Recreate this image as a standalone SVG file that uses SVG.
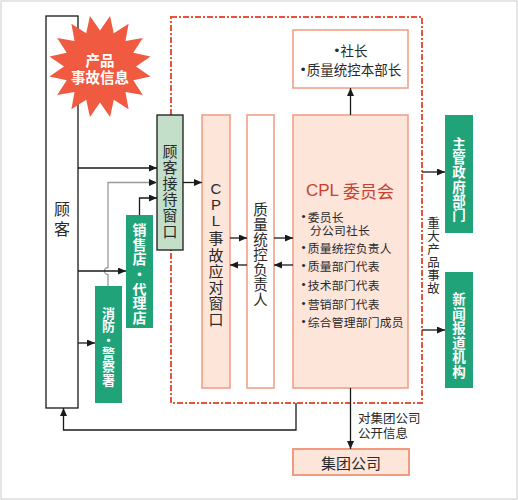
<svg xmlns="http://www.w3.org/2000/svg" width="518" height="500" viewBox="0 0 518 500">
<defs>
<marker id="ah" markerWidth="9" markerHeight="8" refX="8" refY="3.5" orient="auto" markerUnits="userSpaceOnUse"><path d="M0,0 L8,3.5 L0,7 z" fill="#1a1a1a"/></marker>
<style>
text{font-family:"Noto Sans CJK SC","Liberation Sans",sans-serif;dominant-baseline:central;fill:#2a2a2a}
.lat{font-family:"Liberation Sans","Noto Sans CJK SC",sans-serif}
.w{fill:#fff;font-weight:bold}
.pk{fill:#fde5da;stroke:#f29a80;stroke-width:1.5}
.gr{fill:#20a378}
.ln{fill:none;stroke:#1a1a1a;stroke-width:1.3}
.ar{marker-end:url(#ah)}
.v{text-anchor:middle}
</style>
</defs>
<rect x="1" y="1" width="516" height="498" fill="#fff" stroke="#cccccc" stroke-width="1"/>

<g id="dashed-frame"><rect x="171" y="17" width="251" height="386" fill="none" stroke="#e8553d" stroke-width="2" stroke-dasharray="6 2 2 2"/></g>

<g id="customer">
<rect x="46" y="16" width="32" height="392" fill="#fff" stroke="#1a1a1a" stroke-width="1.3"/>
<text x="62" y="208" font-size="16" class="v">顾</text>
<text x="62" y="228" font-size="16" class="v">客</text>
</g>

<g id="starburst">
<polygon fill="#f05a40" points="100,30.5 110.05,16 113.78,33.24 128.61,23.68 125.46,41.04 142.82,37.89 133.26,52.72 150.51,56.45 136,66.5 150.51,76.55 133.26,80.28 142.82,95.11 125.46,91.96 128.61,109.32 113.78,99.76 110.05,117 100,102.5 89.95,117 86.22,99.76 71.39,109.32 74.54,91.96 57.18,95.11 66.74,80.28 49.49,76.55 64,66.5 49.49,56.45 66.74,52.72 57.18,37.89 74.54,41.04 71.39,23.68 86.22,33.24 89.95,16"/>
<text x="100" y="59.5" font-size="14.5" class="w v">产品</text>
<text x="100" y="76" font-size="14.5" class="w v">事故信息</text>
</g>

<g id="reception">
<rect x="157" y="115" width="26" height="135" fill="#c3dfca" stroke="#1a1a1a" stroke-width="1.3"/>
<text font-size="15" class="v"><tspan x="170" y="150">顾</tspan><tspan x="170" y="166">客</tspan><tspan x="170" y="182">接</tspan><tspan x="170" y="198">待</tspan><tspan x="170" y="214">窗</tspan><tspan x="170" y="230">口</tspan></text>
</g>

<g id="dealer">
<rect x="126" y="215" width="27" height="113" class="gr"/>
<text font-size="14" class="w v"><tspan x="139.5" y="229">销</tspan><tspan x="139.5" y="243.7">售</tspan><tspan x="139.5" y="258.3">店</tspan><tspan x="139.5" y="273">•</tspan><tspan x="139.5" y="287.7">代</tspan><tspan x="139.5" y="302.3">理</tspan><tspan x="139.5" y="317">店</tspan></text>
</g>

<g id="police">
<rect x="95" y="286" width="27" height="117" class="gr"/>
<text font-size="13" class="w v"><tspan x="108.5" y="312">消</tspan><tspan x="108.5" y="325.3">防</tspan><tspan x="108.5" y="338.6">•</tspan><tspan x="108.5" y="351.9">警</tspan><tspan x="108.5" y="365.2">察</tspan><tspan x="108.5" y="378.5">署</tspan></text>
</g>

<g id="cpl-window">
<rect x="202" y="115" width="28" height="273" class="pk"/>
<text font-size="15" class="v"><tspan x="216" y="188" class="lat">C</tspan><tspan x="216" y="204" class="lat">P</tspan><tspan x="216" y="220" class="lat">L</tspan><tspan x="216" y="237">事</tspan><tspan x="216" y="253.5">故</tspan><tspan x="216" y="270">应</tspan><tspan x="216" y="286">对</tspan><tspan x="216" y="302">窗</tspan><tspan x="216" y="318">口</tspan></text>
</g>

<g id="quality-manager">
<rect x="247" y="115" width="27" height="273" fill="#fff" stroke="#f29a80" stroke-width="1.5"/>
<text font-size="14.5" class="v"><tspan x="260.5" y="208">质</tspan><tspan x="260.5" y="223">量</tspan><tspan x="260.5" y="238">统</tspan><tspan x="260.5" y="253">控</tspan><tspan x="260.5" y="268">负</tspan><tspan x="260.5" y="283">责</tspan><tspan x="260.5" y="298">人</tspan></text>
</g>

<g id="committee">
<rect x="293" y="115" width="115" height="273" class="pk"/>
<text x="350" y="190" font-size="17" class="v" style="fill:#c8412e"><tspan class="lat">CPL </tspan>委员会</text>
<g font-size="11.8" letter-spacing="0.2">
<text x="301.5" y="216"><tspan class="lat">•</tspan><tspan dx="2">委员长</tspan></text>
<text x="310" y="229">分公司社长</text>
<text x="301.5" y="246.5"><tspan class="lat">•</tspan><tspan dx="2">质量统控负责人</tspan></text>
<text x="301.5" y="265"><tspan class="lat">•</tspan><tspan dx="2">质量部门代表</tspan></text>
<text x="301.5" y="283.5"><tspan class="lat">•</tspan><tspan dx="2">技术部门代表</tspan></text>
<text x="301.5" y="302.5"><tspan class="lat">•</tspan><tspan dx="2">营销部门代表</tspan></text>
<text x="301.5" y="321"><tspan class="lat">•</tspan><tspan dx="2">综合管理部门成员</tspan></text>
</g>
</g>

<g id="president">
<rect x="293" y="30" width="115" height="58" fill="#fff" stroke="#f29a80" stroke-width="1.5"/>
<text x="351" y="50" font-size="13.5" class="v"><tspan class="lat">•</tspan><tspan dx="1.5">社长</tspan></text>
<text x="351" y="69" font-size="13.5" class="v"><tspan class="lat">•</tspan><tspan dx="1.5">质量统控本部长</tspan></text>
</g>

<g id="group-company">
<rect x="293" y="449" width="116" height="26" fill="#fde5da" stroke="#f29a80" stroke-width="2"/>
<text x="351" y="462" font-size="15" class="v">集团公司</text>
</g>

<g id="government">
<rect x="445" y="115" width="28" height="118" class="gr"/>
<text font-size="13.5" class="w v"><tspan x="459" y="143">主</tspan><tspan x="459" y="157.2">管</tspan><tspan x="459" y="171.4">政</tspan><tspan x="459" y="185.6">府</tspan><tspan x="459" y="199.8">部</tspan><tspan x="459" y="214">门</tspan></text>
</g>

<g id="media">
<rect x="445" y="272" width="28" height="116" class="gr"/>
<text font-size="13.5" class="w v"><tspan x="459" y="298">新</tspan><tspan x="459" y="312.5">闻</tspan><tspan x="459" y="327">报</tspan><tspan x="459" y="341.5">道</tspan><tspan x="459" y="356">机</tspan><tspan x="459" y="370.5">构</tspan></text>
</g>

<g id="connectors">
<path class="ln ar" d="M78,168 H157"/>
<path fill="none" stroke="#999" stroke-width="1.3" class="ar" d="M108,286 V274.5 A3.5,3.5 0 0 1 108,267.5 V182.5 H157"/>
<path class="ln ar" d="M139.5,215 V198 H157"/>
<path class="ln ar" d="M78,271 H126"/>
<path class="ln ar" d="M78,343 H95"/>
<path class="ln ar" d="M183,182.5 H202"/>
<path class="ln ar" d="M230,238 H247"/>
<path class="ln ar" d="M247,265 H230"/>
<path class="ln ar" d="M274,238 H293"/>
<path class="ln ar" d="M293,265 H274"/>
<path class="ln ar" d="M350.5,115 V88"/>
<path class="ln ar" d="M350.5,388 V449"/>
<path class="ln ar" d="M422,172 H445"/>
<path class="ln ar" d="M422,330 H445"/>
<path class="ln ar" d="M296,403 V430 H63.5 V408"/>
<text x="358" y="417" font-size="12.5">对集团公司</text>
<text x="358" y="432" font-size="12.5">公开信息</text>
<text font-size="12.5" class="v"><tspan x="433.5" y="222">重</tspan><tspan x="433.5" y="235">大</tspan><tspan x="433.5" y="248">产</tspan><tspan x="433.5" y="261">品</tspan><tspan x="433.5" y="274">事</tspan><tspan x="433.5" y="287">故</tspan></text>
</g>
</svg>
